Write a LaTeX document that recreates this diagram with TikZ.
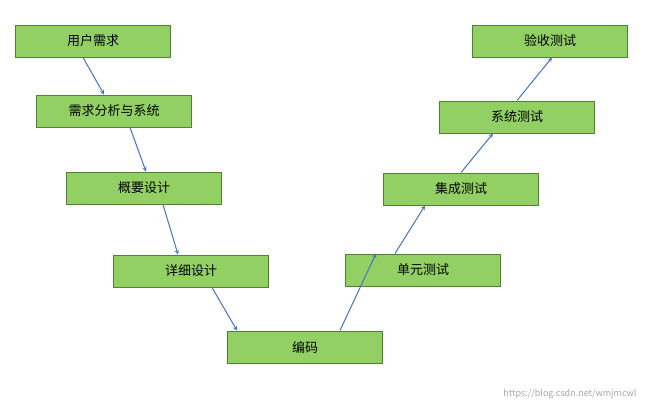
\documentclass[tikz,border=0pt]{standalone}
\usepackage{fontspec}
\setmainfont{Noto Sans CJK SC}
\usepackage{tikz}
\definecolor{boxfill}{RGB}{146,208,100}
\definecolor{boxdraw}{RGB}{80,130,50}
\definecolor{arrowblue}{RGB}{68,114,196}
\begin{document}
\begin{tikzpicture}[x=1pt,y=1pt,yscale=-1,
  stage/.style={draw=boxdraw,fill=boxfill,line width=1pt,minimum width=155pt,minimum height=32pt,inner sep=0pt,font=\fontsize{13}{15}\selectfont},
  flow/.style={draw=arrowblue,line width=1pt,-stealth}]
		\useasboundingbox (0,0) rectangle (650,407);
		
		% left branch
		\node [stage] (req) at (93,41) {用户需求};
		\node [stage] (ana) at (114,111) {需求分析与系统};
		\node [stage] (pre) at (144,188) {概要设计};
		\node [stage] (det) at (191,271) {详细设计};
		\node [stage] (code) at (305,347) {编码};
		% right branch
		\node [stage] (unit) at (423,270) {单元测试};
		\node [stage] (intg) at (461,189) {集成测试};
		\node [stage] (sys) at (517,117) {系统测试};
		\node [stage] (acc) at (550,41) {验收测试};
		
		\draw [flow] ([xshift=-10pt]req.south) -- ([xshift=-10pt]ana.north);
		\draw [flow] ([xshift=16pt]ana.south) -- ([xshift=2pt]pre.north);
		\draw [flow] ([xshift=19pt]pre.south) -- ([xshift=-13pt]det.north);
		\draw [flow] ([xshift=21pt]det.south) -- ([xshift=-68pt]code.north);
		\draw [flow] ([xshift=35pt]code.north) -- ([xshift=-47pt]unit.north);
		\draw [flow] ([xshift=-28pt]unit.north) -- ([xshift=-36pt]intg.south);
		\draw [flow] (intg.north) -- ([xshift=-24pt]sys.south);
		\draw [flow] (sys.north) -- ([xshift=2pt]acc.south);
		
		% watermark
		\node [text=black!35,font=\fontsize{9}{10}\selectfont,anchor=south east] (mark) at (640,402) {https://blog.csdn.net/wmjmcwl};
\end{tikzpicture}
\end{document}
